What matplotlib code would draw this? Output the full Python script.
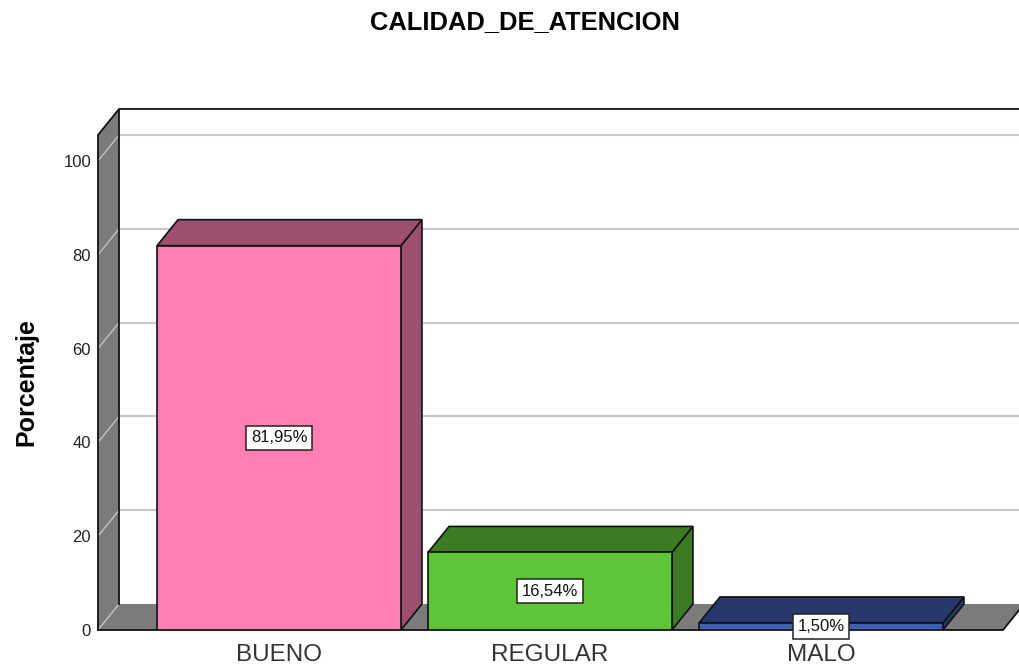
import numpy as np
import matplotlib
matplotlib.use('Agg')
import matplotlib.pyplot as plt

plt.rcParams['font.family'] = ['Liberation Sans', 'DejaVu Sans']

# Datos
categorias = ['BUENO', 'REGULAR', 'MALO']
porcentajes = [81.95, 16.54, 1.50]
etiquetas = ['81,95%', '16,54%', '1,50%']
ticks_y = [0, 20, 40, 60, 80, 100]

# Colores: frente, lados
color_frente = ['#ff7fb4', '#5fc538', '#3f60b0']
color_lado = ['#9b5070', '#3c7a24', '#26386c']
gris = '#7b7b7b'
gris_linea = '#c9c9c9'

W, H = 1019, 666
ancho = 0.9
prof_x = 21 / 271  # profundidad 3D en unidades de categoria
prof_y = 26 / 4.69  # profundidad 3D en porcentaje
x_min, x_max = -181 / 271, 740 / 271
y_max = 521 / 4.69
x_suelo = 724 / 271  # fin del suelo, en el frente

fig = plt.figure(figsize=(W / 100, H / 100), dpi=100)
ax = fig.add_axes([98 / W, 36 / H, 921 / W, 521 / H])
ax.set_xlim(x_min, x_max)
ax.set_ylim(0, y_max)
for s in ax.spines.values():
    s.set_visible(False)

# Pared izquierda y suelo
ax.fill([x_min, x_min + prof_x, x_min + prof_x, x_min],
        [0, prof_y, y_max, y_max - prof_y], color=gris, ec='none', zorder=1)
ax.fill([x_min, x_suelo, x_suelo + prof_x, x_min + prof_x],
        [0, 0, prof_y, prof_y], color=gris, ec='none', zorder=1)

# Lineas de rejilla
for t in ticks_y:
    ax.plot([x_min, x_min + prof_x], [t, t + prof_y], color=gris_linea, lw=0.9, zorder=2)
    if t > 0:
        ax.plot([x_min + prof_x, x_max], [t + prof_y, t + prof_y], color=gris_linea, lw=1.5, zorder=2)

# Bordes
borde = '#111111'
ax.plot([x_min, x_min, x_min + prof_x, x_max], [0, y_max - prof_y, y_max, y_max],
        color=borde, lw=1.3, zorder=3, clip_on=False)
ax.plot([x_min + prof_x, x_min + prof_x], [y_max, prof_y], color=borde, lw=1.3, zorder=3)
ax.plot([x_min, x_suelo, x_suelo + prof_x], [0, 0, prof_y], color=borde, lw=1.3, zorder=3, clip_on=False)

# Barras 3D
x = np.arange(len(categorias))
for i, v in enumerate(porcentajes):
    x0 = x[i] - ancho / 2
    x1 = x[i] + ancho / 2
    ax.fill([x1, x1 + prof_x, x1 + prof_x, x1], [0, prof_y, v + prof_y, v],
            fc=color_lado[i], ec=borde, lw=1.2, zorder=4)
    ax.fill([x0, x1, x1 + prof_x, x0 + prof_x], [v, v, v + prof_y, v + prof_y],
            fc=color_lado[i], ec=borde, lw=1.2, zorder=4)
    ax.bar(x[i], v, width=ancho, color=color_frente[i], edgecolor=borde, lw=1.2, zorder=5)
    ax.text(x[i], v / 2, etiquetas[i], ha='center', va='center', fontsize=12, color='#111111', zorder=7,
            bbox=dict(boxstyle='square,pad=0.28', fc='white', ec='#222222', lw=1.1))

ax.set_xticks(x)
ax.set_xticklabels(categorias, fontsize=17.5, color='#333333')
ax.set_yticks(ticks_y)
ax.set_yticklabels([str(t) for t in ticks_y], fontsize=12, color='#222222')
ax.tick_params(axis='both', length=0)
ax.tick_params(axis='x', pad=10)
ax.tick_params(axis='y', pad=5)

ax.set_ylabel('Porcentaje', fontsize=18, fontweight='bold', labelpad=0)
ax.yaxis.set_label_coords(-60 / 921, (630 - 382) / 521)
fig.suptitle('CALIDAD_DE_ATENCION', x=525 / W, y=1 - 22 / H, fontsize=18.4, fontweight='bold',
             va='center', ha='center')

fig.savefig('out.png', dpi=100)
